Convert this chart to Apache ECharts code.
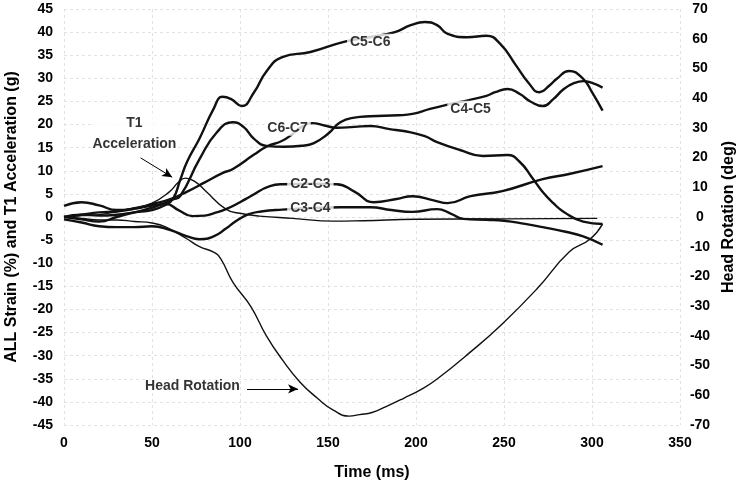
<!DOCTYPE html>
<html>
<head>
<meta charset="utf-8">
<script src="https://cdn.jsdelivr.net/npm/echarts@6/dist/echarts.min.js"></script>
<style>html,body{margin:0;padding:0;background:#fff}#c{width:738px;height:484px}</style>
</head>
<body>
<div id="c"></div>
<script>
// Time (ms) and values
var c56T = [0,10,20,30,40,50,57,62,66,70,77,85,90,95,101,108,115,124,140,159,175,188,197,205,212,218,229,240,248,257,264,270,276,280,287,295,300,306];
var c56V = [0,0.5,0.3,0.5,1,1.5,2.5,4,8,12,17,23.4,26,25.5,24,27,31.5,34.6,35.7,37.9,39,40,41.5,42.2,41.5,39.6,38.9,39.2,37.4,32.7,29,27,28.5,29.9,31.6,29.9,27,23];

var c45T = [0,10,20,30,40,50,57,62,66,77,87,96,102,108,115,125,135,142,150,157,165,174,190,198,208,220,230,240,245,252,259,265,272,278,284,290,295,300,306];
var c45V = [0,-0.5,-1,0,1,2,3,3.8,4.5,12.5,18.4,20.5,19.5,16.9,15.4,15.2,15.4,16,18,20.5,21.5,21.8,22,22.3,23.4,24.5,25.3,26.2,27,27.7,26.6,25,24,25.5,27.7,29,29.4,29,28];

var c67T = [0,10,20,30,40,50,60,70,80,90,96,108,115,124,130,135,141,148,155,165,174,185,193,205,212,225,238,252,259,266,272,278,284,295,306];
var c67V = [0,0.5,1,1.2,1.8,2.8,3.8,5.5,7.5,9.5,10.4,13.5,15.2,16.5,18,19.5,20.3,19.8,19.3,19.5,19.7,19,18.6,17.5,16.2,14.5,13.2,13.4,11.9,8.5,5.4,3,1.1,-1,-1.5];

var c23T = [0,10,20,30,40,50,58,65,73,80,85,92,100,106,117,124,140,155,165,176,189,198,210,218,231,249,272,287,306];
var c23V = [2.4,3.2,2.5,1.5,1.8,2.5,2.8,1.5,0.2,0.3,0.8,1.7,3.2,4.5,6.7,7.1,7.2,7.1,5.5,3.2,3.9,4.5,3.6,3,4.5,5.6,8.2,9.3,11];

var c34T = [0,10,20,30,40,50,60,70,77,85,92,98,105,112,124,140,157,174,186,198,212,220,227,240,250,262,272,285,295,306];
var c34V = [-0.5,-1.2,-2,-2.2,-2.2,-2,-2.8,-4.2,-4.8,-4.2,-2.5,-0.8,0.6,1.2,1.6,1.9,2.1,2.1,1.5,1.1,1.7,0.7,-0.4,-0.6,-0.8,-1.5,-2.2,-3.2,-4.2,-6];

var t1T = [0,10,20,30,40,50,60,65,69,75,80,92,100,111,130,153,170,200,250,303];
var t1V = [0,0.3,0.5,1.2,2,3,5.5,7.5,8.4,7.5,5.8,1.7,0.8,0.2,-0.3,-0.9,-0.8,-0.5,-0.4,-0.3];

var headT = [0,10,20,30,40,50,58,70,77,85,89,96,106,115,124,134,144,153,162,168,175,183,193,203,212,231,249,269,287,299,306];
var headV = [0,-0.5,-1,-1,-1.5,-2,-3.4,-7.4,-10,-11.8,-14,-22,-30,-40,-48,-55.5,-61,-65,-67,-66.5,-65.8,-63.8,-61,-58,-54.5,-45.4,-36,-24,-11.8,-7.4,-2.4];

var xTicks = [0,50,100,150,200,250,300,350];

function pairs(t, v) { return t.map(function (x, i) { return [x, v[i]]; }); }

var font = 'Liberation Sans, Arial, sans-serif';
var chart = echarts.init(document.getElementById('c'), null, {renderer: 'canvas'});

function curve(name, t, v, width, axis) {
  return {
    name: name, type: 'line', data: pairs(t, v), yAxisIndex: axis || 0,
    smooth: 0.5, showSymbol: false, symbol: 'none', silent: true,
    lineStyle: {color: '#111', width: width}, z: 2
  };
}

var lblStyle = {
  show: true, position: 'inside', color: '#000', fontFamily: font, fontWeight: 'bold',
  fontSize: 14, backgroundColor: '#fff', padding: [1, 3]
};

var gridLine = {show: true, lineStyle: {color: '#e2e2e2', type: [3, 3], width: 1}};

chart.setOption({
  animation: false,
  backgroundColor: '#fff',
  grid: {left: 64, right: 58, top: 9, bottom: 59, outerBoundsMode: 'none', containLabel: false},
  xAxis: {
    type: 'value', min: 0, max: 350, interval: 50,
    name: 'Time (ms)', nameLocation: 'middle', nameGap: 40,
    nameTextStyle: {fontFamily: font, fontWeight: 'bold', fontSize: 16, color: '#000'},
    axisLine: {show: false}, axisTick: {show: false},
    axisLabel: {fontFamily: font, fontWeight: 'bold', fontSize: 14, color: '#000', margin: 11,
      formatter: function (v) { return xTicks.indexOf(v) >= 0 ? String(v) : ''; }},
    splitLine: gridLine
  },
  yAxis: [{
    type: 'value', min: -45, max: 45, interval: 5,
    name: 'ALL Strain (%) and T1 Acceleration (g)', nameLocation: 'middle', nameGap: 44,
    nameTextStyle: {fontFamily: font, fontWeight: 'bold', fontSize: 16, color: '#000'},
    axisLine: {show: false}, axisTick: {show: false},
    axisLabel: {fontFamily: font, fontWeight: 'bold', fontSize: 14, color: '#000', margin: 11},
    splitLine: gridLine
  }, {
    type: 'value', min: -70, max: 70, interval: 10, position: 'right',
    name: 'Head Rotation (deg)', nameLocation: 'middle', nameGap: 40, nameRotate: 90,
    nameTextStyle: {fontFamily: font, fontWeight: 'bold', fontSize: 16, color: '#000'},
    axisLine: {show: false}, axisTick: {show: false},
    axisLabel: {fontFamily: font, fontWeight: 'bold', fontSize: 14, color: '#000', margin: 20, align: 'center'},
    splitLine: {show: false}
  }],
  series: [
    curve('C5-C6', c56T, c56V, 2.4),
    curve('C4-C5', c45T, c45V, 2.4),
    curve('C6-C7', c67T, c67V, 2.4),
    curve('C2-C3', c23T, c23V, 2.4),
    curve('C3-C4', c34T, c34V, 2.4),
    curve('T1 Acceleration', t1T, t1V, 1.4),
    curve('Head Rotation', headT, headV, 1.4, 1),
    {
      name: 'labels', type: 'scatter', symbolSize: 0, silent: true, z: 10,
      label: lblStyle,
      data: [
        {value: [174, 37.9], label: {formatter: 'C5-C6'}},
        {value: [231, 23.4], label: {formatter: 'C4-C5'}},
        {value: [127, 19.3], label: {formatter: 'C6-C7'}},
        {value: [140, 7.1], label: {formatter: 'C2-C3'}},
        {value: [140, 1.9], label: {formatter: 'C3-C4'}},
        {value: [40, 18], label: {formatter: 'T1\nAcceleration', lineHeight: 21, align: 'center', padding: [0, 0]}},
        {value: [73, -36.6], label: {formatter: 'Head Rotation', fontSize: 14, padding: [0, 0]}}
      ],
      markLine: {
        silent: true, symbol: ['none', 'arrow'], symbolSize: [7, 10],
        label: {show: false},
        lineStyle: {color: '#000', width: 1, type: 'solid'},
        data: [
          [{coord: [43.5, 12.8]}, {coord: [61.5, 8.6]}],
          [{coord: [104, -37.2]}, {coord: [133, -37.2]}]
        ]
      }
    }
  ]
});
</script>
</body>
</html>
